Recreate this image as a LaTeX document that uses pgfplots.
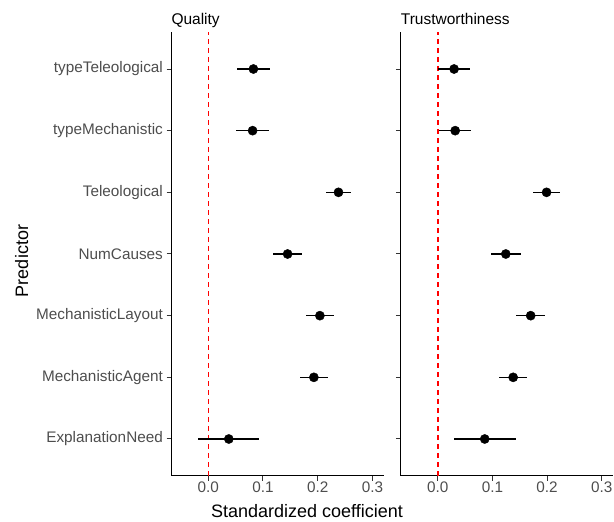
\documentclass[border=0pt]{standalone}
\usepackage{fontspec}
\setmainfont{Liberation Sans}
\usepackage{pgfplots}
\usepackage{pgfplotstable}
\pgfplotsset{compat=1.18}
\definecolor{gray30}{RGB}{77,77,77}
\definecolor{gray20}{RGB}{51,51,51}
\definecolor{vred}{RGB}{255,0,0}

\pgfplotstableread{
y est err
7 0.0825 0.0305
6 0.081 0.030
5 0.238 0.0235
4 0.145 0.0265
3 0.204 0.025
2 0.193 0.025
1 0.0375 0.0555
}\quality

\pgfplotstableread{
y est err
7 0.030 0.029
6 0.032 0.0287
5 0.199 0.025
4 0.1245 0.027
3 0.170 0.0265
2 0.138 0.026
1 0.086 0.0565
}\trust

\pgfplotsset{panel/.style={
 scale only axis, width=212.6pt, height=444pt,
 xmin=-0.0676, xmax=0.321, ymin=0.4, ymax=7.6,
 axis lines=left, axis line style={-, black, line width=1pt},
 tick align=outside, major tick length=4.75pt,
 tick style={gray20, line width=1pt},
 xtick={0,0.1,0.2,0.3}, xticklabels={0.0,0.1,0.2,0.3},
 ytick={1,2,3,4,5,6,7},
 /pgf/number format/assume math mode=true,
 ticklabel style={font=\fontsize{15.3}{18}\selectfont, text=gray30},
 xticklabel style={inner sep=1pt},
 yticklabel style={inner sep=3.5pt},
 clip=false,
}}

\begin{document}
\begin{tikzpicture}
\useasboundingbox (0pt,0pt) rectangle (614pt,522pt);
\begin{axis}[panel, at={(171.3pt,46pt)}, anchor=south west,
  yticklabels={ExplanationNeed,MechanisticAgent,MechanisticLayout,NumCauses,Teleological,typeMechanistic,typeTeleological}]
\addplot[draw=vred, line width=1.3pt, dash pattern=on 5pt off 4pt] coordinates {(0,0.4) (0,7.6)};
\addplot[black, only marks, mark=*, mark size=4.6pt,
  error bars/.cd, x dir=both, x explicit, error mark=none,
  error bar style={line width=1.1pt, black}]
  table[x=est, y=y, x error=err]{\quality};
\end{axis}
\begin{axis}[panel, at={(400.7pt,46pt)}, anchor=south west, yticklabels={}]
\addplot[draw=vred, line width=1.3pt, dash pattern=on 5pt off 4pt] coordinates {(0.0005,0.4) (0.0005,7.6)};
\addplot[black, only marks, mark=*, mark size=4.6pt,
  error bars/.cd, x dir=both, x explicit, error mark=none,
  error bar style={line width=1.1pt, black}]
  table[x=est, y=y, x error=err]{\trust};
\end{axis}
\node[anchor=base west, inner sep=0pt, font=\fontsize{15.5}{18}\selectfont] at (171.3pt,497pt) {Quality};
\node[anchor=base west, inner sep=0pt, font=\fontsize{15.5}{18}\selectfont] at (400.7pt,497pt) {Trustworthiness};
\node[anchor=base, inner sep=0pt, font=\fontsize{18}{20}\selectfont] at (307pt,4pt) {Standardized coefficient};
\node[anchor=base, inner sep=0pt, rotate=90, font=\fontsize{18}{20}\selectfont] at (28pt,261pt) {Predictor};
\end{tikzpicture}
\end{document}
